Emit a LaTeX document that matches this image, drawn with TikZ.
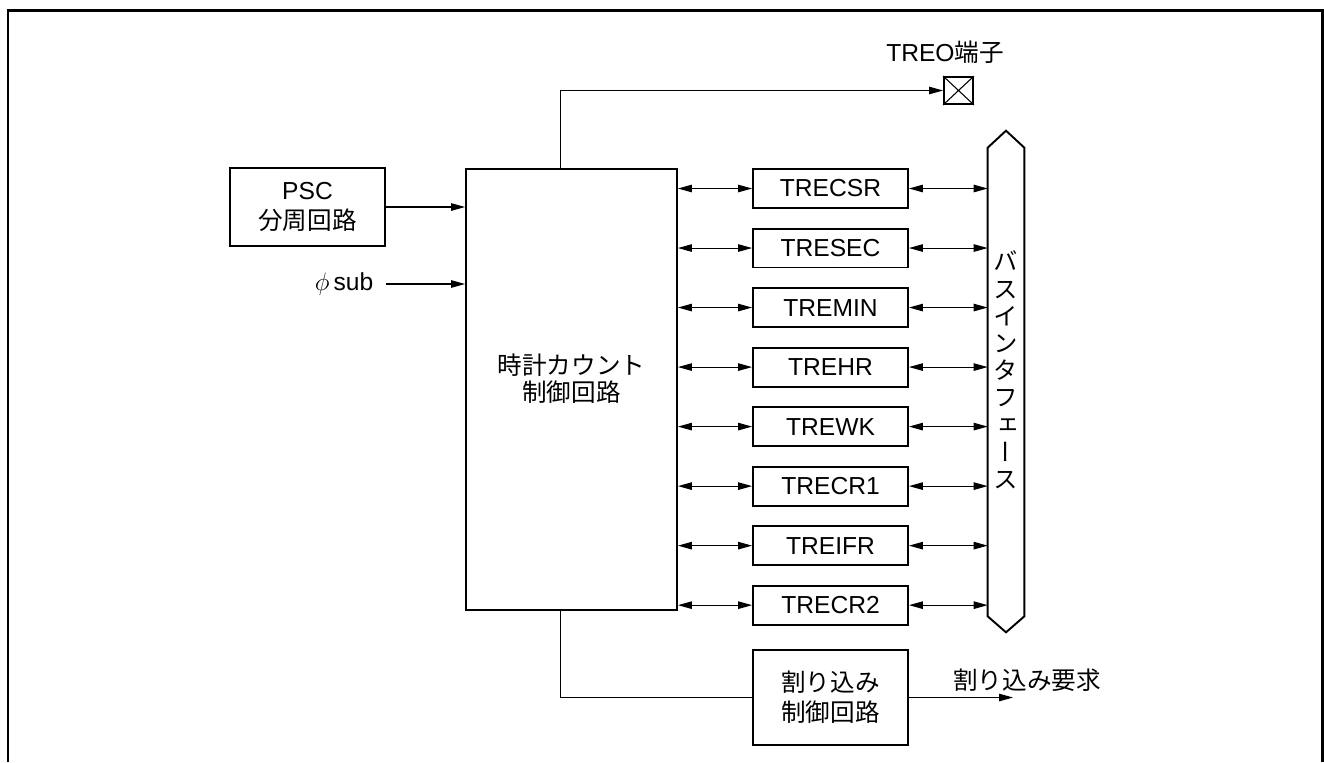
\documentclass[tikz,border=0pt]{standalone}
\usepackage{fontspec}
\setmainfont{Liberation Sans}
\newfontfamily\jp{Noto Sans CJK JP}
\newfontfamily\jpv[RawFeature={+vert}]{Noto Sans CJK JP}
\usetikzlibrary{arrows.meta, calc, positioning}

\begin{document}
\begin{tikzpicture}[
            x=0.02cm, y=-0.02cm,
            every node/.style={font=\fontsize{14}{17}\selectfont},
            blk/.style={rectangle, draw=black, line width=1.1pt,
            inner sep=0pt, align=center},
            reg/.style={blk, minimum width=3.1cm, minimum height=0.78cm},
            arr/.style={line width=0.6pt, -{Triangle[length=0.28cm, width=0.15cm]}},
            darr/.style={line width=0.6pt,
            {Triangle[length=0.28cm, width=0.15cm]}-{Triangle[length=0.28cm, width=0.15cm]}},
            wire/.style={line width=0.6pt}
        ]
            \useasboundingbox (0,0) rectangle (1324,762);

% ----- Rahmen -----
            \draw[line width=1.7pt] (8,762) |- (1322,10) -- (1322,762);

% ----- Knoten -----
            \node[blk, minimum width=3.1cm, minimum height=1.56cm] (psc) at (307.5,207) {PSC\\{\jp 分周回路}};
            \node[inner xsep=0.24cm] (phi) at (344,284) {$\phi$\,sub};
            \node[blk, minimum width=4.22cm, minimum height=8.82cm] (main) at (571.5,389.5) {};
            \node[align=center, font=\jp\fontsize{14}{15.5}\selectfont] (maintxt)
                at ($(main.center)+(0,-11)$) {時計カウント\\制御回路};

            \node[reg] (r1) at (830.5,188.5) {TRECSR};
            \node[reg, below=0.372cm of r1] (r2) {TRESEC};
            \node[reg, below=0.372cm of r2] (r3) {TREMIN};
            \node[reg, below=0.372cm of r3] (r4) {TREHR};
            \node[reg, below=0.372cm of r4] (r5) {TREWK};
            \node[reg, below=0.372cm of r5] (r6) {TRECR1};
            \node[reg, below=0.372cm of r6] (r7) {TREIFR};
            \node[reg, below=0.372cm of r7] (r8) {TRECR2};

            \node[minimum width=0.72cm, minimum height=9.36cm, inner sep=0pt] (bus) at (1006,382) {};
            \draw[line width=1.1pt] (bus.north west) -- ($(bus.north)+(0,-17)$) -- (bus.north east)
                -- (bus.south east) -- ($(bus.south)+(0,16)$) -- (bus.south west) -- cycle;
            \node[inner sep=0pt, align=center, font=\jpv\fontsize{14}{15.5}\selectfont] (bustxt)
                at ($(bus.center)+(0,-12)$) {バ\\ス\\イ\\ン\\タ\\フ\\ェ\\ー\\ス};

            \node (treol) at (945,52) {TREO{\jp 端子}};
            \node[draw, line width=1.1pt, minimum width=0.58cm, minimum height=0.54cm, inner sep=0pt] (term) at (958.5,90.5) {};
            \draw[wire] (term.north west) -- (term.south east) (term.north east) -- (term.south west);

            \node[blk, minimum width=3.1cm, minimum height=1.9cm] (irq) at (830.5,697.5)
                {{\jp 割り込み}\\{\jp 制御回路}};
            \node (irql) at (1027,680) {\jp 割り込み要求};
            \coordinate (irqout) at (1013,697.5);

% ----- Kanten -----
            \draw[arr] (psc.east) -- (main.west |- psc.east);
            \draw[arr] (phi.east) -- (main.west |- phi.east);
            \draw[arr] ($(main.north west)+(95,0)$) |- (term.west);
            \draw[wire] ($(main.south west)+(95,0)$) |- (irq.west);
            \draw[arr] (irq.east) -- (irqout);

% Register <-> Bus
            \draw[darr] (main.east |- r1) -- (r1.west);
            \draw[darr] (main.east |- r2) -- (r2.west);
            \draw[darr] (main.east |- r3) -- (r3.west);
            \draw[darr] (main.east |- r4) -- (r4.west);
            \draw[darr] (main.east |- r5) -- (r5.west);
            \draw[darr] (main.east |- r6) -- (r6.west);
            \draw[darr] (main.east |- r7) -- (r7.west);
            \draw[darr] (main.east |- r8) -- (r8.west);
            \draw[darr] (r1.east) -- (bus.west |- r1);
            \draw[darr] (r2.east) -- (bus.west |- r2);
            \draw[darr] (r3.east) -- (bus.west |- r3);
            \draw[darr] (r4.east) -- (bus.west |- r4);
            \draw[darr] (r5.east) -- (bus.west |- r5);
            \draw[darr] (r6.east) -- (bus.west |- r6);
            \draw[darr] (r7.east) -- (bus.west |- r7);
            \draw[darr] (r8.east) -- (bus.west |- r8);

        \end{tikzpicture}
\end{document}
